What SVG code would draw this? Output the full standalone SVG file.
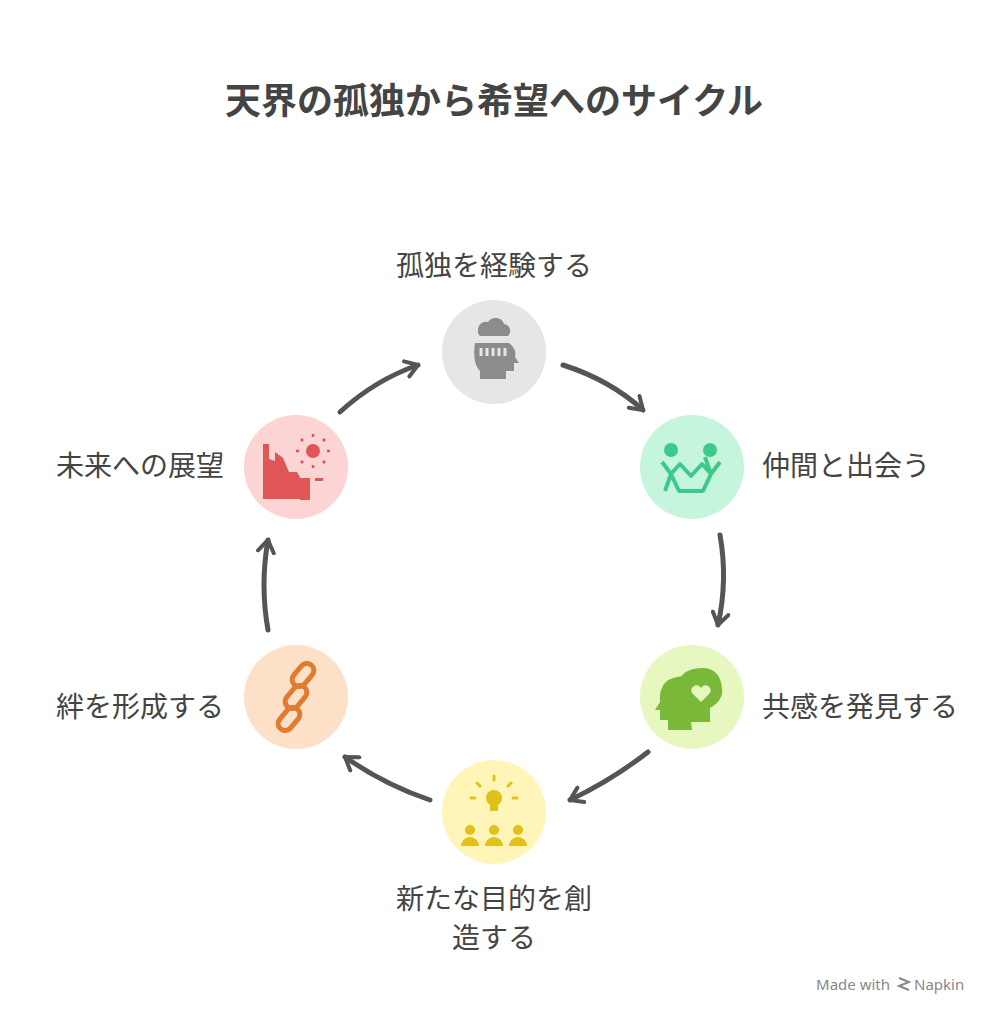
<svg xmlns="http://www.w3.org/2000/svg" width="1006" height="1024" viewBox="0 0 1006 1024">
<style>
text{font-family:"Noto Sans CJK JP","Noto Sans",sans-serif;fill:#444}
.t{font-size:36px;font-weight:bold;fill:#444}
.l{font-size:28px}
.c{fill:none;stroke:#555;stroke-width:5;stroke-linecap:round}
</style>
<defs><marker id="a" viewBox="0 0 10 10" refX="7" refY="5" markerWidth="4" markerHeight="4" orient="auto"><path d="M1,1 L7,5 L1,9" fill="none" stroke="#555" stroke-width="2" stroke-linecap="round" stroke-linejoin="round"/></marker></defs>
<rect width="1006" height="1024" fill="#fff"/>
<text class="t" x="494" y="114" text-anchor="middle">天界の孤独から希望へのサイクル</text>
<g id="connectors">
<path class="c" marker-end="url(#a)" d="M563,365 Q610,380 643,410"/>
<path class="c" marker-end="url(#a)" d="M720,535 Q728,580 718,625"/>
<path class="c" marker-end="url(#a)" d="M648,752 Q612,780 570,800"/>
<path class="c" marker-end="url(#a)" d="M430,800 Q385,785 345,757"/>
<path class="c" marker-end="url(#a)" d="M268,630 Q260,585 268,540"/>
<path class="c" marker-end="url(#a)" d="M340,412 Q375,380 418,365"/>
</g>
<g id="n1"><circle cx="494" cy="352" r="52" fill="#e6e6e6"/>
<path d="M478,330 a8,8 0 0 1 10,-8 a9,9 0 0 1 16,2 a7,7 0 0 1 4,12 h-28 a6,6 0 0 1 -2,-6z" fill="#8c8c8c"/>
<path d="M475,343 h34 q8,6 6,14 l4,6 h-5 v8 h-8 v8 h-26 v-8 q-8,-8 -5,-28z" fill="#8c8c8c"/>
<path d="M481,348 v8 M487,348 v8 M493,348 v8 M499,348 v8 M505,348 v8" stroke="#e6e6e6" stroke-width="3"/>
<text class="l" x="494" y="276" text-anchor="middle">孤独を経験する</text></g>
<g id="n2"><circle cx="692" cy="467" r="52" fill="#c6f5de"/>
<circle cx="671" cy="450" r="7" fill="#3ec98a"/><circle cx="710" cy="450" r="7" fill="#3ec98a"/>
<path d="M662,462 l9,12 l9,-10 l11,12 l11,-12 l9,10 l9,-12 M671,474 l-6,17 M671,474 l8,17 h24 l8,-17 l-6,-17" fill="none" stroke="#3ec98a" stroke-width="4" stroke-linejoin="round"/>
<text class="l" x="762" y="476">仲間と出会う</text></g>
<g id="n3"><circle cx="692" cy="697" r="52" fill="#e6f8c0"/>
<path d="M686,676 q-28,0 -26,26 l-5,8 h5 v10 h8 v10 h24z" fill="#7ab83a"/>
<path d="M702,668 q-26,0 -24,26 l-5,8 h5 v10 h8 v10 h24 v-14 q14,-8 12,-20 q-2,-20 -20,-20z" fill="#7ab83a"/>
<path d="M701,702 l-9,-9 a4.5,4.5 0 0 1 9,-5 a4.5,4.5 0 0 1 9,5z" fill="#e6f8c0"/>
<text class="l" x="762" y="717">共感を発見する</text></g>
<g id="n4"><circle cx="494" cy="812" r="52" fill="#fff5b8"/>
<circle cx="494" cy="798" r="8" fill="#e0c21a"/><rect x="490" y="805" width="8" height="6" fill="#e0c21a"/>
<path d="M494,780 v-4 M480,786 l-3,-3 M508,786 l3,-3 M475,798 h-4 M513,798 h4" stroke="#e0c21a" stroke-width="3" stroke-linecap="round"/>
<circle cx="470" cy="830" r="5" fill="#e0c21a"/><circle cx="494" cy="830" r="5" fill="#e0c21a"/><circle cx="518" cy="830" r="5" fill="#e0c21a"/>
<path d="M461,846 a9,9 0 0 1 18,0z M485,846 a9,9 0 0 1 18,0z M509,846 a9,9 0 0 1 18,0z" fill="#e0c21a"/>
<text class="l" x="494" y="909" text-anchor="middle">新たな目的を創</text>
<text class="l" x="494" y="948" text-anchor="middle">造する</text></g>
<g id="n5"><circle cx="296" cy="697" r="52" fill="#fde0c8"/>
<g fill="none" stroke="#e07b30" stroke-width="5" stroke-linecap="round"><rect x="296" y="662" width="14" height="26" rx="7" transform="rotate(40 303 675)"/><rect x="289" y="684" width="14" height="26" rx="7" transform="rotate(40 296 697)"/><rect x="282" y="706" width="14" height="26" rx="7" transform="rotate(40 289 719)"/></g>
<text class="l" x="224" y="717" text-anchor="end">絆を形成する</text></g>
<g id="n6"><circle cx="296" cy="467" r="52" fill="#fcd4d4"/>
<circle cx="313" cy="451" r="7" fill="#e05555"/>
<path d="M313,437 v-3 M313,465 v3 M299,451 h-3 M327,451 h3 M303,441 l-2,-2 M323,441 l2,-2 M303,461 l-2,2 M323,461 l2,2" stroke="#e05555" stroke-width="2.5"/>
<path d="M263,444 h6 v15 l6,2 v-9 l8,6 l6,14 l8,0 l5,9 v18 h-39z M300,478 h10 v22 h-10z M315,478 h8 v3 h-8z" fill="#e05555"/>
<text class="l" x="224" y="476" text-anchor="end">未来への展望</text></g>
<text x="890" y="990" text-anchor="end" style="font-size:15px;fill:#888;font-family:'Noto Sans',sans-serif">Made with</text>
<path d="M899,978 l10,4 l-10,4 l10,4" fill="none" stroke="#888" stroke-width="2"/>
<text x="914" y="990" style="font-size:15px;fill:#888;font-family:'Noto Sans',sans-serif">Napkin</text>
</svg>
